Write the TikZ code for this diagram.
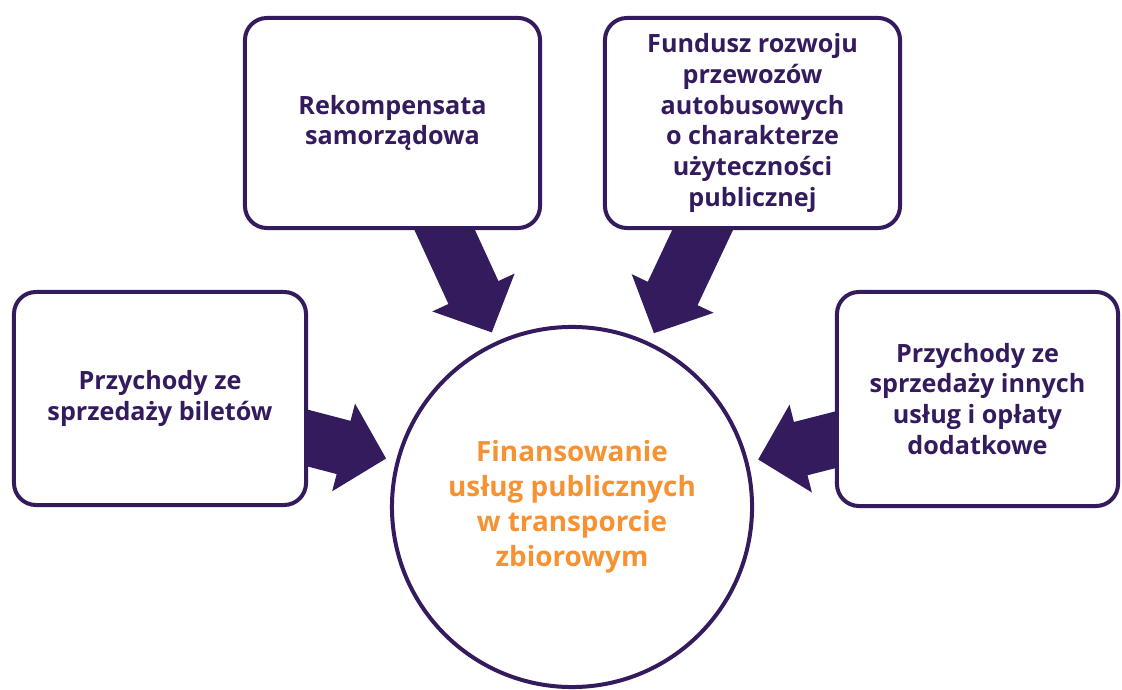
\documentclass[tikz,border=0pt]{standalone}
\usepackage{fontspec}
\setmainfont{Open Sans}
\usetikzlibrary{arrows.meta,backgrounds}
\definecolor{fiolet}{RGB}{52,27,94}
\definecolor{pomarancz}{RGB}{246,146,50}

\begin{document}
\begin{tikzpicture}[x=0.025cm,y=0.025cm,
    zrodlo/.style={draw=fiolet,fill=white,line width=0.1cm,rounded corners=0.55cm,
      text=fiolet,font=\fontsize{17.9}{22}\selectfont\bfseries,align=center,inner sep=0pt},
    cel/.style={draw=fiolet,fill=white,line width=0.1cm,circle,minimum size=9cm,
      text=pomarancz,font=\fontsize{19.8}{24.8}\selectfont\bfseries,align=center,inner sep=0pt},
    wplyw/.style={draw=fiolet,line width=1.375cm,shorten <=-0.5cm,shorten >=0.25cm,
      -{Triangle[length=1.1cm,width=2.2cm]}}]
  \useasboundingbox (0,0) rectangle (1122,689);

  % Zrodla finansowania
  \node[zrodlo,minimum width=7.375cm,minimum height=5.25cm] (rek)  at (392.5,566) {Rekompensata\\samorządowa};
  \node[zrodlo,minimum width=7.375cm,minimum height=5.25cm] (fund) at (752.5,566) {Fundusz rozwoju\\przewozów\\autobusowych\\o charakterze\\użyteczności\\publicznej};
  \node[zrodlo,minimum width=7.3cm,minimum height=5.325cm]  (bil)  at (160,290.5) {Przychody ze\\sprzedaży biletów};
  \node[zrodlo,minimum width=7.025cm,minimum height=5.35cm] (inne) at (977.5,290) {Przychody ze\\sprzedaży innych\\usług i opłaty\\dodatkowe};
  % Srodek
  \node[cel] (fin) at (572,182) {Finansowanie\\usług publicznych\\w transporcie\\zbiorowym};

  \begin{pgfonlayer}{background}
    \draw[wplyw] (rek.-64.7)  -- (fin);
    \draw[wplyw] (fund.-115.3) -- (fin);
    \draw[wplyw] (bil.-15.7)  -- (fin);
    \draw[wplyw] (inne.-164)  -- (fin);
  \end{pgfonlayer}
\end{tikzpicture}
\end{document}
